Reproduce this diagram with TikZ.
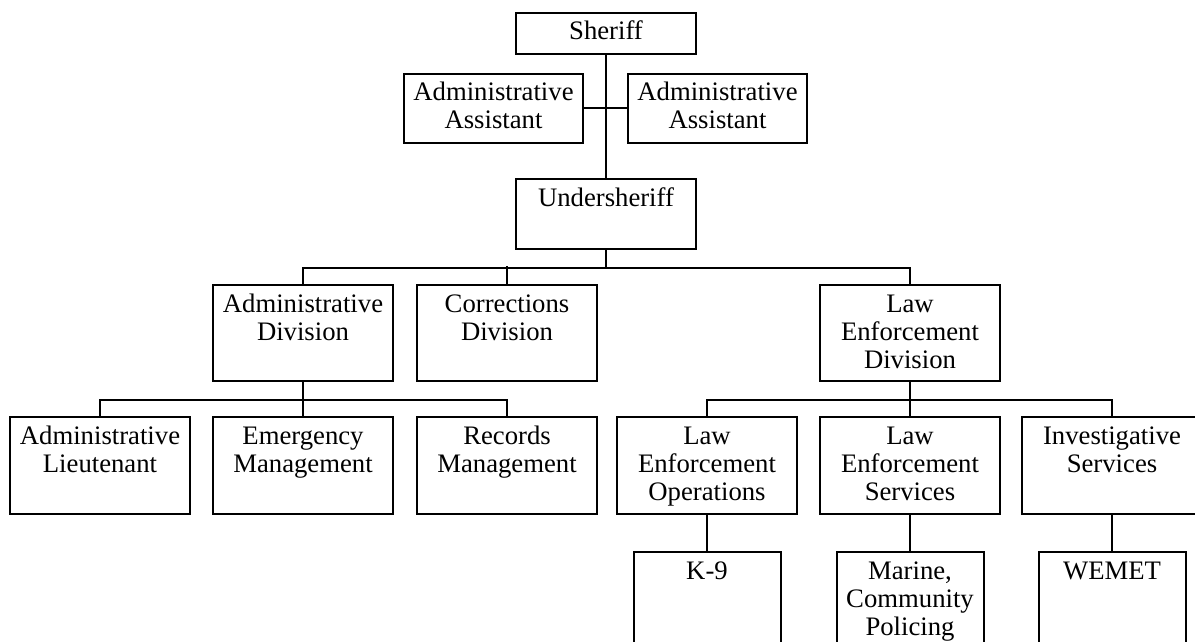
\documentclass[tikz,border=0pt]{standalone}
\usepackage{fontspec}
\setmainfont{Liberation Serif}
\usepackage{tikz}

\begin{document}
\begin{tikzpicture}[x=1pt,y=-1pt,line width=2pt,
  unit/.style={draw, anchor=north, align=center, inner sep=0pt,
    font=\fontsize{26.7pt}{28pt}\selectfont, text width=180pt, text height=27pt},
  toprow/.style={unit, text depth=#1},
  midrow/.style={unit, text depth=69pt},
  lowrow/.style={unit, text depth=70pt},
  team/.style={unit, text width=147pt, text depth=75pt}]
\useasboundingbox (0,0) rectangle (1195,642);
\clip (0,0) rectangle (1195,642);
\node[toprow=14pt] (sheriff) at (606,12) {Sheriff};
\node[toprow=42pt, text width=179pt] (asstL) at (493.5,73) {Administrative\\Assistant};
\node[toprow=42pt, text width=179pt] (asstR) at (717.5,73) {Administrative\\Assistant};
\node[toprow=43pt] (under) at (606,178) {Undersheriff};
\node[midrow] (admin) at (303,284) {Administrative\\Division};
\node[midrow] (corr) at (507,284) {Corrections\\Division};
\node[midrow] (law) at (910,284) {Law\\Enforcement\\Division};
\node[lowrow] (adminlt) at (100,416) {Administrative\\Lieutenant};
\node[lowrow] (emerg) at (303,416) {Emergency\\Management};
\node[lowrow] (records) at (507,416) {Records\\Management};
\node[lowrow] (leo) at (707,416) {Law\\Enforcement\\Operations};
\node[lowrow] (les) at (910,416) {Law\\Enforcement\\Services};
\node[lowrow] (invest) at (1112,416) {Investigative\\Services};
\node[team] (k9) at (707,551) {K-9};
\node[team] (marine) at (910,551) {Marine,\\Community\\Policing};
\node[team] (wemet) at (1112,551) {WEMET};
% command chain
\draw (sheriff.south) -- (under.north);
\draw (asstL.east) -- (asstR.west);
\draw (under.south) -- ++(0,18) -| (admin.north);
\draw (under.south) -- ++(0,18) -| (law.north);
\draw (corr.north) -- ++(0,-18);
% divisions
\draw (admin.south) -- ++(0,18) -| (adminlt.north);
\draw (admin.south) -- ++(0,18) -| (records.north);
\draw (admin.south) -- (emerg.north);
\draw (law.south) -- ++(0,18) -| (leo.north);
\draw (law.south) -- ++(0,18) -| (invest.north);
\draw (law.south) -- (les.north);
\draw (leo.south) -- (k9.north);
\draw (les.south) -- (marine.north);
\draw (invest.south) -- (wemet.north);
\end{tikzpicture}
\end{document}
